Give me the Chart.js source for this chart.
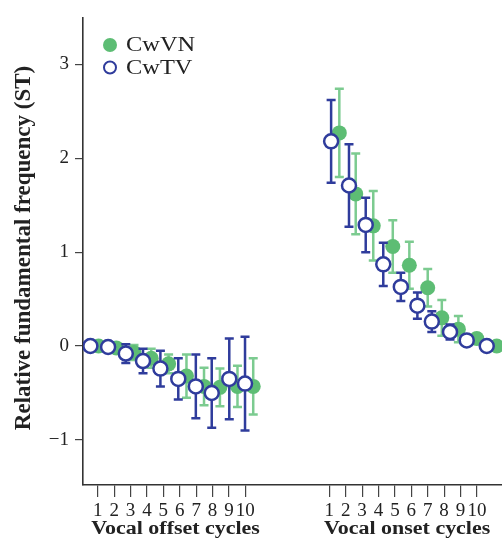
<!doctype html>
<html lang="en">
<head>
<meta charset="utf-8">
<title>Relative fundamental frequency</title>
<style>
  html, body { margin: 0; padding: 0; background: #fff; }
  #wrap { width: 502px; height: 549px; }
</style>
</head>
<body>
<div id="wrap"><canvas id="rffChart"></canvas></div>

<script src="https://cdn.jsdelivr.net/npm/chart.js"></script>
<script>
  const serif = '"Liberation Serif", "DejaVu Serif", serif';

  // tick slots on the x axis: offset cycles 1-10, then onset cycles 1-10
  const tickLabels = ['1', '2', '3', '4', '5', '6', '7', '8', '9', '10'];
  const offsetTickPos = [1, 2, 3, 4, 5, 6, 7, 8, 9, 10];
  const onsetTickPos = [15.12, 16.12, 17.12, 18.12, 19.12, 20.12, 21.12, 22.12, 23.12, 24.12];
  const yTicks = [-1, 0, 1, 2, 3];

  // where each marker sits along x (markers are staggered)
  const tvOffsetX = [0.55, 1.63, 2.71, 3.76, 4.82, 5.91, 6.98, 7.95, 9.02, 9.98];
  const vnOffsetX = [1.05, 2.13, 3.21, 4.26, 5.32, 6.41, 7.48, 8.45, 9.52, 10.48];
  const tvOnsetX = [15.23, 16.32, 17.34, 18.41, 19.48, 20.49, 21.37, 22.48, 23.5, 24.72];
  const vnOnsetX = [15.73, 16.73, 17.8, 18.99, 20.0, 21.12, 21.98, 22.99, 24.11, 25.33];

  // CwVN (green, filled)
  const vnOffsetMean = [0.0, -0.02, -0.07, -0.13, -0.19, -0.32, -0.43, -0.44, -0.43, -0.43];
  const vnOffsetErr = [0.02, 0.04, 0.08, 0.1, 0.1, 0.23, 0.2, 0.2, 0.22, 0.3];
  const vnOnsetMean = [2.27, 1.62, 1.28, 1.06, 0.86, 0.62, 0.3, 0.18, 0.08, 0.0];
  const vnOnsetErr = [0.47, 0.43, 0.37, 0.28, 0.25, 0.2, 0.19, 0.14, 0.05, 0.01];

  // CwTV (blue, open)
  const tvOffsetMean = [0.0, -0.01, -0.08, -0.16, -0.24, -0.35, -0.43, -0.5, -0.35, -0.4];
  const tvOffsetErr = [0.02, 0.05, 0.1, 0.13, 0.19, 0.22, 0.34, 0.37, 0.43, 0.5];
  const tvOnsetMean = [2.18, 1.71, 1.29, 0.87, 0.63, 0.43, 0.26, 0.15, 0.06, 0.0];
  const tvOnsetErr = [0.44, 0.44, 0.29, 0.23, 0.15, 0.14, 0.11, 0.08, 0.04, 0.01];

  const green = '#5dbd74';
  const greenBar = '#7ccb90';
  const blue = '#2f3c9c';

  function points(xs, means, errs) {
    return xs.map((x, i) => ({ x: x, y: means[i], err: errs[i] }));
  }

  const vnData = points(vnOffsetX, vnOffsetMean, vnOffsetErr)
    .concat(points(vnOnsetX, vnOnsetMean, vnOnsetErr));
  const tvData = points(tvOffsetX, tvOffsetMean, tvOffsetErr)
    .concat(points(tvOnsetX, tvOnsetMean, tvOnsetErr));

  // error bars under each dataset, plus legend and the two group titles
  const extras = {
    id: 'extras',
    beforeDatasetDraw(chart, args) {
      const ds = chart.data.datasets[args.index];
      const xs = chart.scales.x, ys = chart.scales.y;
      const ctx = chart.ctx;
      ctx.save();
      ctx.strokeStyle = ds.barColor;
      ctx.lineWidth = 2.5;
      ds.data.forEach(p => {
        const px = xs.getPixelForValue(p.x);
        const top = ys.getPixelForValue(p.y + p.err);
        const bot = ys.getPixelForValue(p.y - p.err);
        ctx.beginPath();
        ctx.moveTo(px, top); ctx.lineTo(px, bot);
        ctx.moveTo(px - 4.5, top); ctx.lineTo(px + 4.5, top);
        ctx.moveTo(px - 4.5, bot); ctx.lineTo(px + 4.5, bot);
        ctx.stroke();
      });
      ctx.restore();
    },
    afterDraw(chart) {
      const ctx = chart.ctx;
      const xs = chart.scales.x;
      ctx.save();
      ctx.fillStyle = '#222';

      // y title
      ctx.save();
      ctx.translate(24, 248);
      ctx.rotate(-Math.PI / 2);
      ctx.font = 'bold 23px ' + serif;
      ctx.textAlign = 'center';
      ctx.textBaseline = 'middle';
      ctx.fillText('Relative fundamental frequency (ST)', 0, 0);
      ctx.restore();

      // group titles under the ticks
      const groups = [
        ['Vocal offset cycles', offsetTickPos],
        ['Vocal onset cycles', onsetTickPos]
      ];
      groups.forEach(g => {
        const pos = g[1];
        const cx = (xs.getPixelForValue(pos[0]) + xs.getPixelForValue(pos[pos.length - 1])) / 2 + 4;
        ctx.save();
        ctx.translate(cx, 534);
        ctx.scale(1.22, 1);
        ctx.font = 'bold 18px ' + serif;
        ctx.textAlign = 'center';
        ctx.textBaseline = 'alphabetic';
        ctx.fillText(g[0], 0, 0);
        ctx.restore();
      });

      // legend
      ctx.fillStyle = green;
      ctx.beginPath();
      ctx.arc(110, 45, 7, 0, Math.PI * 2);
      ctx.fill();
      ctx.strokeStyle = blue;
      ctx.lineWidth = 2;
      ctx.fillStyle = '#fff';
      ctx.beginPath();
      ctx.arc(110, 67.5, 6, 0, Math.PI * 2);
      ctx.fill();
      ctx.stroke();

      ctx.fillStyle = '#222';
      [['CwVN', 46], ['CwTV', 68.5]].forEach(l => {
        ctx.save();
        ctx.translate(126, l[1]);
        ctx.scale(1.22, 1);
        ctx.font = '20px ' + serif;
        ctx.textAlign = 'left';
        ctx.textBaseline = 'middle';
        ctx.fillText(l[0], 0, 0);
        ctx.restore();
      });
      ctx.restore();
    }
  };

  const rffChart = new Chart(document.getElementById('rffChart'), {
    type: 'scatter',
    data: {
      datasets: [
        {
          label: 'CwTV',
          data: tvData,
          order: 0,
          barColor: blue,
          pointRadius: 7,
          pointBorderWidth: 2.5,
          pointBackgroundColor: '#fff',
          pointBorderColor: blue
        },
        {
          label: 'CwVN',
          data: vnData,
          order: 1,
          barColor: greenBar,
          pointRadius: 7.5,
          pointBorderWidth: 0,
          pointBackgroundColor: green,
          pointBorderColor: green
        }
      ]
    },
    options: {
      responsive: true,
      maintainAspectRatio: false,
      animation: false,
      devicePixelRatio: 1,
      layout: { autoPadding: false, padding: { top: 14, right: 0, left: 0, bottom: 0 } },
      plugins: {
        legend: { display: false },
        tooltip: { enabled: false }
      },
      scales: {
        x: {
          type: 'linear',
          min: 0.1,
          max: 25.65,
          afterFit(s) { s.height = 64; },
          afterBuildTicks(s) {
            s.ticks = offsetTickPos.concat(onsetTickPos).map(v => ({ value: v }));
          },
          ticks: {
            autoSkip: false,
            maxRotation: 0,
            padding: 3,
            color: '#222',
            font: { family: serif, size: 19 },
            callback: (v, i) => tickLabels[i % tickLabels.length]
          },
          grid: { drawOnChartArea: false, tickLength: 12, color: '#444', lineWidth: 1.2 },
          border: { color: '#333', width: 1.6 }
        },
        y: {
          min: -1.48,
          max: 3.5,
          afterFit(s) { s.width = 83; },
          afterBuildTicks(s) {
            s.ticks = yTicks.map(v => ({ value: v }));
          },
          ticks: {
            padding: 6,
            color: '#222',
            font: { family: serif, size: 19 },
            callback: v => (v < 0 ? '\u2212' + Math.abs(v) : String(v))
          },
          grid: { drawOnChartArea: false, tickLength: 8, color: '#444', lineWidth: 1.2 },
          border: { color: '#333', width: 1.6 }
        }
      }
    },
    plugins: [extras]
  });
</script>
</body>
</html>
